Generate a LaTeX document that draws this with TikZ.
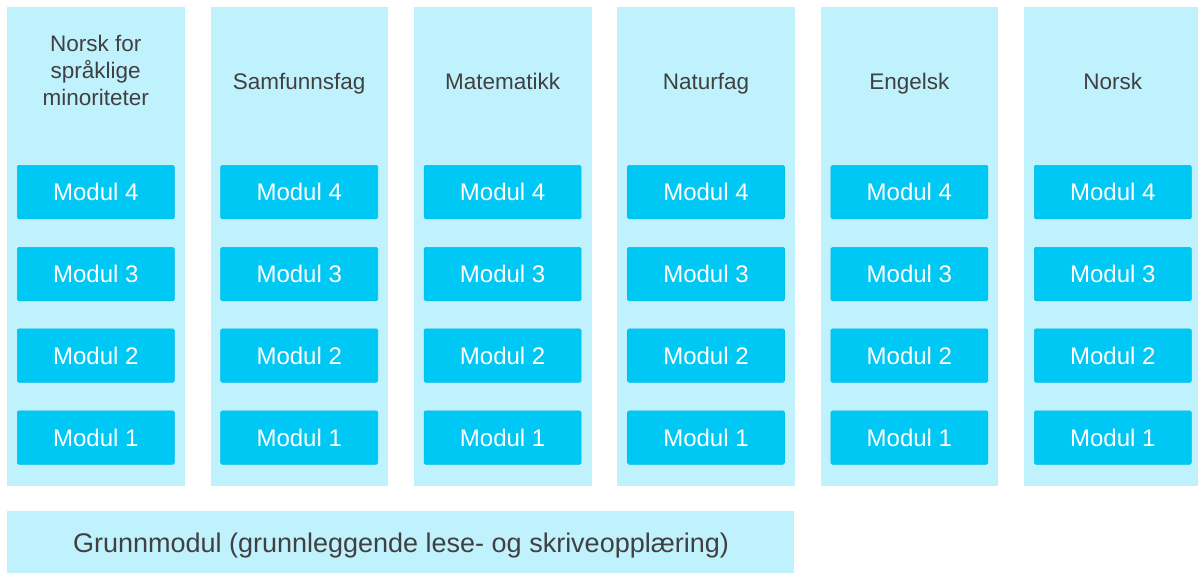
\documentclass[tikz,border=0pt]{standalone}
\usepackage{fontspec}
\setmainfont{Liberation Sans}
\definecolor{colfill}{HTML}{C0F2FE}
\definecolor{modfill}{HTML}{00C8F4}
\definecolor{modedge}{HTML}{00BDEA}
\definecolor{titletext}{HTML}{404040}
\tikzset{
  column/.style={fill=colfill, draw=none, inner sep=0pt, anchor=north west,
    minimum width=177.5pt, minimum height=479pt},
  modbox/.style={fill=modfill, draw=modedge, line width=0.6pt, rounded corners=1.5pt,
    inner sep=0pt, anchor=north west, minimum width=157pt, minimum height=53.5pt,
    text=white, font=\fontsize{24}{28}\selectfont},
  coltitle/.style={text=titletext, align=center, inner sep=0pt,
    font=\fontsize{22.5}{27}\selectfont},
  basebox/.style={fill=colfill, draw=none, inner sep=0pt, anchor=north west,
    minimum width=787pt, minimum height=62pt}
}
\begin{document}
\begin{tikzpicture}[x=1pt,y=-1pt]
\useasboundingbox (0,0) rectangle (1198,573);
\foreach \i/\t in {0/{Norsk for\\språklige\\minoriteter},1/Samfunnsfag,2/Matematikk,3/Naturfag,4/Engelsk,5/Norsk}{
  \pgfmathsetmacro{\xl}{7+203.4*\i}
  \node[column] (col\i) at (\xl,7) {};
  \ifnum\i=0
    \node[coltitle] (title\i) at (\xl+88.75,70) {\t};
  \else
    \node[coltitle, anchor=base] (title\i) at (\xl+88.75,89) {\t};
  \fi
  \foreach \m/\y in {4/165,3/247,2/328.5,1/410.5}{
    \node[modbox] (mod\i-\m) at (\xl+10,\y) {Modul \m};
  }
}
\node[basebox] (base) at (7,511) {};
\node[text=titletext, inner sep=0pt, anchor=base, font=\fontsize{27}{31}\selectfont] (basetext) at (401,552.5) {Grunnmodul (grunnleggende lese- og skriveopplæring)};
\end{tikzpicture}
\end{document}
